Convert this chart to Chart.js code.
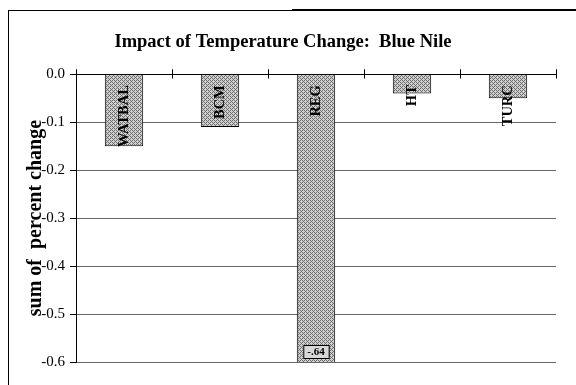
<!DOCTYPE html>
<html><head><meta charset="utf-8">
<script src="https://cdn.jsdelivr.net/npm/chart.js@4.4.0/dist/chart.umd.min.js"></script>
<style>
html,body{margin:0;padding:0;background:#fff}
#wrap{position:relative;width:576px;height:385px;overflow:hidden}
#frame{position:absolute;left:8px;top:10px;width:600px;height:400px;border-left:1px solid #000;border-top:1px solid #000}
#thick{position:absolute;left:292px;top:9px;width:284px;height:2px;background:#000}
canvas{position:absolute;left:0;top:0}
</style></head>
<body>
<div id="wrap"><div id="frame"></div><div id="thick"></div><canvas id="myChart" width="576" height="385"></canvas></div>
<script>
const categories = ["WATBAL", "BCM", "REG", "HT", "TURC"];
const values = [-0.15, -0.11, -0.64, -0.04, -0.05];
const yTickValues = [0, -0.1, -0.2, -0.3, -0.4, -0.5, -0.6];

const serif = '"Liberation Serif", "Times New Roman", serif';

// stippled grey fill like the scanned bars
const pc = document.createElement('canvas');
pc.width = 4; pc.height = 4;
const p = pc.getContext('2d');
p.fillStyle = '#cfcfcf'; p.fillRect(0, 0, 4, 4);
p.fillStyle = '#6e6e6e';
p.fillRect(0, 0, 1, 1); p.fillRect(2, 2, 1, 1); p.fillRect(2, 0, 1, 1); p.fillRect(0, 2, 1, 1);
p.fillRect(1, 3, 1, 1); p.fillRect(3, 1, 1, 1);
const barFill = p.createPattern(pc, 'repeat');

const barLabels = {
  id: 'barLabels',
  afterDatasetsDraw(chart) {
    const ctx = chart.ctx, y = chart.scales.y, area = chart.chartArea;
    chart.getDatasetMeta(0).data.forEach((bar, i) => {
      ctx.save();
      ctx.translate(bar.x, y.getPixelForValue(0) + 11);
      ctx.rotate(-Math.PI / 2);
      ctx.font = 'bold 14.5px ' + serif;
      ctx.fillStyle = '#000';
      ctx.textAlign = 'right';
      ctx.textBaseline = 'middle';
      ctx.fillText(categories[i], 0, 0);
      ctx.restore();
      if (values[i] < y.min) {
        // value off the scale: show it in a small box at the bottom
        const txt = values[i].toFixed(2).replace('0.', '.');
        ctx.save();
        ctx.font = 'bold 11px ' + serif;
        const w = ctx.measureText(txt).width + 8;
        ctx.fillStyle = '#d8d8d8';
        ctx.fillRect(bar.x - w / 2, area.bottom - 17, w, 13);
        ctx.strokeStyle = '#000';
        ctx.lineWidth = 1;
        ctx.strokeRect(bar.x - w / 2 + 0.5, area.bottom - 16.5, w, 13);
        ctx.fillStyle = '#000';
        ctx.textAlign = 'center';
        ctx.textBaseline = 'middle';
        ctx.fillText(txt, bar.x, area.bottom - 10);
        ctx.restore();
      }
    });
    // x-axis tick marks cross the zero line
    const x = chart.scales.x, y0 = Math.round(y.getPixelForValue(0)) + 0.5;
    ctx.save();
    ctx.strokeStyle = '#000';
    ctx.lineWidth = 1;
    for (let i = 0; i <= categories.length; i++) {
      const px = Math.round(x.left + i * (x.right - x.left) / categories.length) + 0.5;
      ctx.beginPath(); ctx.moveTo(px, y0); ctx.lineTo(px, y0 + 4); ctx.stroke();
    }
    ctx.restore();
  }
};

new Chart("myChart", {
  type: "bar",
  data: {
    labels: categories,
    datasets: [{
      data: values,
      backgroundColor: barFill,
      borderColor: "#000",
      borderWidth: 1,
      barPercentage: 0.4,
      categoryPercentage: 1
    }]
  },
  options: {
    responsive: false,
    animation: false,
    layout: { padding: { left: 10, right: 20, bottom: 23, top: 0 } },
    plugins: {
      legend: { display: false },
      tooltip: { enabled: false },
      title: {
        display: true,
        text: "Impact of Temperature Change:  Blue Nile",
        color: "#000",
        font: { family: serif, size: 18.5, weight: "bold" },
        padding: { top: 31, bottom: 11 }
      }
    },
    scales: {
      x: {
        position: "top",
        ticks: { display: false },
        grid: { drawOnChartArea: false, drawTicks: true, tickLength: 5, color: "#000" },
        border: { color: "#000" },
        afterFit(s) { s.height = 10; }
      },
      y: {
        min: -0.6,
        max: 0,
        afterBuildTicks(s) { s.ticks = yTickValues.map(v => ({ value: v })); },
        ticks: {
          callback: v => v.toFixed(1),
          color: "#000",
          font: { family: serif, size: 15 },
          padding: 5
        },
        grid: { color: "#666", drawTicks: true, tickLength: 6, tickColor: "#000" },
        border: { color: "#000" },
        title: {
          display: true,
          text: "sum of  percent change",
          color: "#000",
          font: { family: serif, size: 20, weight: "bold" },
          padding: { top: 14, bottom: 0 }
        },
        afterFit(s) { s.width = 66; }
      }
    }
  },
  plugins: [barLabels]
});
</script>
</body></html>
